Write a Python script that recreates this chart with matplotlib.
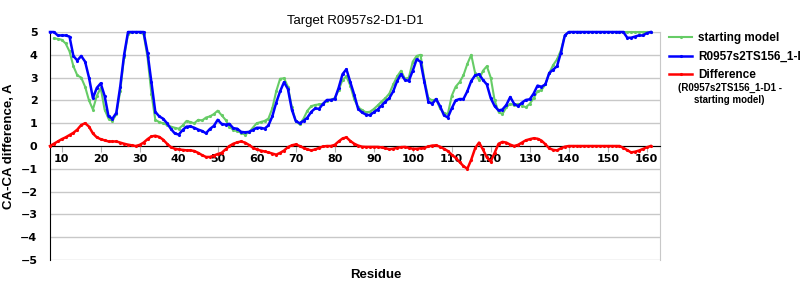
import numpy as np
import matplotlib
matplotlib.use('Agg')
from matplotlib import pyplot as plt

# residues 7..161
residues = list(range(7, 162))

model = [5.0, 5.0, 4.85, 4.85, 4.85, 4.8, 3.95, 3.75, 3.95, 3.7,
         3.0, 2.1, 2.55, 2.75, 2.2, 1.3, 1.2, 1.45, 2.6, 4.0,
         5.0, 5.0, 5.0, 5.0, 5.0, 4.1, 2.8, 1.5, 1.3, 1.2,
         1.0, 0.75, 0.55, 0.5, 0.7, 0.85, 0.86, 0.8, 0.72, 0.66,
         0.56, 0.75, 0.88, 1.15, 0.97, 0.94, 0.97, 0.78, 0.76, 0.62,
         0.6, 0.62, 0.7, 0.8, 0.8, 0.76, 0.9, 1.3, 1.9, 2.4,
         2.8, 2.5, 1.6, 1.1, 1.0, 1.1, 1.25, 1.5, 1.65, 1.63,
         1.85, 2.02, 2.02, 2.06, 2.55, 3.15, 3.37, 2.8, 2.25, 1.63,
         1.47, 1.38, 1.35, 1.48, 1.6, 1.77, 1.95, 2.1, 2.4, 2.85,
         3.15, 2.9, 2.86, 3.3, 3.8, 3.7, 2.8, 1.95, 1.85, 2.06,
         1.75, 1.35, 1.25, 1.65, 2.0, 2.06, 2.06, 2.4, 2.85, 3.1,
         3.15, 2.9, 2.7, 2.1, 1.75, 1.56, 1.6, 1.8, 2.15, 1.85,
         1.75, 1.9, 2.02, 2.05, 2.3, 2.65, 2.6, 2.7, 3.2, 3.35,
         3.5, 4.1, 4.85, 5.0, 5.0, 5.0, 5.0, 5.0, 5.0, 5.0,
         5.0, 5.0, 5.0, 5.0, 5.0, 5.0, 5.0, 5.0, 4.75, 4.75,
         4.8, 4.85, 4.85, 4.95, 5.0]

start = [np.nan, 4.72, 4.7, 4.66, 4.5, 4.15, 3.5, 3.1, 3.0, 2.6,
         2.0, 1.6, 2.2, 2.55, 1.6, 1.2, 1.1, 1.4, 2.4, 3.9,
         4.9, 5.0, 5.0, 5.0, 4.9, 3.9, 2.3, 1.15, 1.05, 1.0,
         0.92, 0.85, 0.8, 0.76, 0.9, 1.1, 1.05, 1.0, 1.15, 1.12,
         1.25, 1.3, 1.4, 1.55, 1.35, 1.15, 0.85, 0.7, 0.65, 0.58,
         0.5, 0.6, 0.8, 1.0, 1.05, 1.1, 1.2, 1.65, 2.4, 2.95,
         2.97, 2.6, 1.7, 1.1, 0.95, 1.2, 1.55, 1.75, 1.8, 1.83,
         1.85, 1.99, 2.03, 2.1, 2.45, 2.9, 3.05, 2.65, 2.05, 1.7,
         1.58, 1.48, 1.5, 1.62, 1.78, 1.95, 2.1, 2.3, 2.7, 3.05,
         3.3, 2.95, 3.0, 3.7, 3.95, 4.0, 2.9, 2.1, 2.0, 2.05,
         1.65, 1.45, 1.4, 2.2, 2.6, 2.8, 3.1, 3.6, 4.0, 3.2,
         2.9, 3.3, 3.5, 3.0, 2.0, 1.5, 1.4, 1.7, 1.85, 1.8,
         1.85, 1.77, 1.7, 1.85, 2.1, 2.4, 2.45, 2.7, 3.2, 3.55,
         3.8, 4.2, 4.85, 5.0, 5.0, 5.0, 5.0, 5.0, 5.0, 5.0,
         5.0, 5.0, 5.0, 5.0, 5.0, 5.0, 5.0, 5.0, 5.0, 5.0,
         5.0, 5.0, 5.0, 5.0, 5.0]

diff = [0.0, 0.1, 0.2, 0.3, 0.38, 0.48, 0.58, 0.72, 0.92, 1.0,
        0.85, 0.55, 0.38, 0.3, 0.25, 0.2, 0.2, 0.2, 0.15, 0.1,
        0.06, 0.03, 0.0, 0.05, 0.15, 0.3, 0.42, 0.45, 0.4, 0.28,
        0.1, -0.05, -0.12, -0.15, -0.17, -0.19, -0.19, -0.22, -0.3, -0.4,
        -0.48, -0.48, -0.42, -0.35, -0.3, -0.15, 0.0, 0.1, 0.16, 0.2,
        0.15, 0.05, -0.07, -0.15, -0.2, -0.24, -0.28, -0.33, -0.38, -0.3,
        -0.2, -0.05, 0.03, 0.07, 0.0, -0.08, -0.15, -0.19, -0.15, -0.08,
        -0.02, 0.0, 0.0, 0.05, 0.2, 0.33, 0.38, 0.22, 0.1, 0.02,
        -0.03, -0.04, -0.04, -0.04, -0.04, -0.06, -0.1, -0.14, -0.12, -0.08,
        -0.05, -0.04, -0.08, -0.12, -0.12, -0.1, -0.08, -0.02, 0.02, 0.03,
        -0.03, -0.12, -0.22, -0.38, -0.52, -0.7, -0.88, -1.0, -0.6, -0.1,
        0.15, -0.15, -0.5, -0.68, -0.3, 0.1, 0.18, 0.15, 0.06, 0.0,
        0.05, 0.15, 0.25, 0.3, 0.34, 0.32, 0.24, 0.08, -0.1, -0.17,
        -0.19, -0.1, -0.03, 0.0, 0.0, 0.0, 0.0, 0.0, 0.0, 0.0,
        0.0, 0.0, 0.0, 0.0, 0.0, 0.0, 0.0, -0.08, -0.18, -0.28,
        -0.25, -0.2, -0.13, -0.06, 0.0]

xticks = list(range(10, 161, 10))
yticks = list(range(-5, 6))

fig = plt.figure(figsize=(8, 3), dpi=100)
ax = fig.add_axes([0.0625, 0.1333, 0.7625, 0.76])

# lines run on the border at 5, so no clipping and drawn above the spines
ax.plot(residues, start, color='#66cc66', lw=1.5, marker='.', ms=2.5,
        label='starting model', clip_on=False, zorder=3)
ax.plot(residues, model, color='#0000ff', lw=1.8, marker='.', ms=2.5,
        label='R0957s2TS156_1-D1', clip_on=False, zorder=4)
ax.plot(residues, diff, color='#ff0000', lw=1.8, marker='.', ms=2.5,
        label='Difference', clip_on=False, zorder=5)

ax.set_xlim(7, 163.4)
ax.set_ylim(-5, 5)
ax.set_xticks(xticks)
ax.set_yticks(yticks)
ax.set_yticklabels([str(v).replace('-', '\u2212') for v in yticks])
ax.grid(axis='y', color='#c8c8c8', lw=1)
ax.set_axisbelow(True)

ax.spines['bottom'].set_position(('data', 0))
ax.spines['bottom'].set_color('black')
ax.spines['left'].set_color('black')
ax.spines['top'].set_color('#c8c8c8')
ax.spines['right'].set_color('#c8c8c8')
ax.tick_params(axis='x', direction='out', length=4, color='#b0b0b0',
               labelsize=8, pad=2)
ax.tick_params(axis='y', length=0, labelsize=8, pad=9)
for lab in ax.get_xticklabels() + ax.get_yticklabels():
    lab.set_fontweight('bold')

ax.set_title('Target R0957s2-D1-D1', fontsize=9.5, family='Liberation Sans', pad=6)
ax.set_ylabel('CA-CA difference, A', fontsize=9.5, fontweight='bold',
              family='Liberation Sans', labelpad=4)
fig.text(0.47, 0.085, 'Residue', ha='center', va='center', fontsize=9.5,
         fontweight='bold', family='Liberation Sans')

leg = ax.legend(loc='upper left', bbox_to_anchor=(0.995, 1.05), frameon=False,
                prop={'family': 'Liberation Sans', 'weight': 'bold', 'size': 8.5},
                handlelength=2.0, handletextpad=0.5, labelspacing=0.55,
                borderaxespad=0.6)
fig.text(0.912, 0.725, '(R0957s2TS156_1-D1 -\nstarting model)', ha='center',
         va='top', fontsize=7, fontweight='bold', family='Liberation Sans',
         linespacing=1.3)

fig.savefig('out.png', dpi=100)
